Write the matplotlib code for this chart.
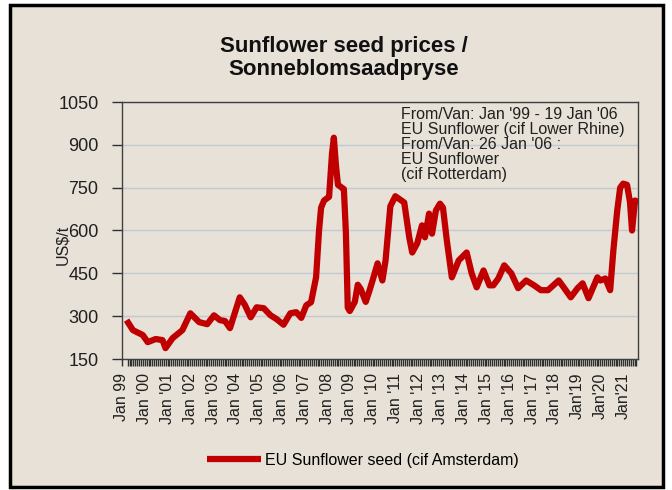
import numpy as np
import matplotlib
matplotlib.use("Agg")
import matplotlib.pyplot as plt
from matplotlib import font_manager
from matplotlib.patches import Rectangle

# decimal year (Jan = .0) and price in US$/t
years = [1999.2, 1999.48, 1999.91, 2000.13, 2000.48, 2000.78, 2000.91, 2001.22,
         2001.65, 2002.00, 2002.39, 2002.74, 2003.04, 2003.30, 2003.52, 2003.74,
         2004.17, 2004.39, 2004.65, 2004.91, 2005.22, 2005.52, 2005.78, 2006.09,
         2006.39, 2006.65, 2006.87, 2007.09, 2007.30, 2007.52, 2007.65, 2007.74,
         2007.87, 2008.09, 2008.22, 2008.30, 2008.39, 2008.48, 2008.65, 2008.74,
         2008.83, 2008.91, 2009.00, 2009.22, 2009.35, 2009.48, 2009.70, 2009.87,
         2010.00, 2010.22, 2010.43, 2010.57, 2010.78, 2011.00, 2011.39, 2011.61,
         2011.74, 2011.96, 2012.17, 2012.30, 2012.48, 2012.61, 2012.78, 2012.96,
         2013.09, 2013.26, 2013.48, 2013.78, 2014.13, 2014.35, 2014.57, 2014.87,
         2015.13, 2015.30, 2015.52, 2015.78, 2016.09, 2016.39, 2016.74, 2017.09,
         2017.39, 2017.70, 2018.17, 2018.39, 2018.70, 2019.00, 2019.22, 2019.48,
         2019.87, 2020.00, 2020.22, 2020.43, 2020.57, 2020.74, 2020.87, 2021.00,
         2021.17, 2021.30, 2021.39, 2021.52, 2021.65]
prices = [286, 251, 234, 209, 220, 216, 188, 223,
          251, 310, 279, 272, 303, 286, 283, 258,
          366, 340, 296, 331, 328, 303, 290, 270,
          310, 314, 294, 338, 349, 436, 600, 680,
          705, 718, 870, 925, 830, 760, 750, 745,
          590, 330, 318, 350, 410, 395, 350, 391,
          425, 485, 425, 495, 685, 720, 698, 576,
          523, 555, 618, 576, 659, 589, 670, 694,
          680, 565, 436, 495, 523, 450, 401, 460,
          408, 408, 432, 478, 450, 398, 425, 408,
          391, 391, 425, 401, 366, 398, 415, 363,
          436, 425, 432, 391, 530, 670, 750, 764,
          760, 700, 600, 705, 700]

tick_years = list(range(1999, 2022))
tick_labels = ["Jan 99"] + ["Jan '%02d" % (y % 100) for y in range(2000, 2019)] + \
              ["Jan'19", "Jan'20", "Jan'21"]
y_ticks = [150, 300, 450, 600, 750, 900, 1050]

title = "Sunflower seed prices /\nSonneblomsaadpryse"
note = ("From/Van: Jan '99 - 19 Jan '06\nEU Sunflower (cif Lower Rhine)\n"
        "From/Van: 26 Jan '06 :\nEU Sunflower\n(cif Rotterdam)")
series_name = "EU Sunflower seed (cif Amsterdam)"

red = "#C00000"
bg = "#E7E1D7"

plt.rcParams["font.family"] = ["Liberation Sans", "DejaVu Sans"]

W, H = 672, 490
fig = plt.figure(figsize=(W / 100, H / 100), dpi=100, facecolor="white")
fig.patches.append(Rectangle((10 / W, 1 - 487 / H), 653 / W, 482 / H,
                             transform=fig.transFigure, facecolor=bg,
                             edgecolor="black", lw=2.5, zorder=-10))

ax = fig.add_axes([122 / W, 1 - 359 / H, 516 / W, 257 / H])
ax.set_zorder(2)
ax.set_facecolor("none")
ax.plot(years, prices, color=red, lw=4.5, solid_joinstyle="round",
        solid_capstyle="butt", label=series_name, zorder=3)

ax.set_xlim(1999.217, 2021.652)
ax.set_ylim(150, 1050)
ax.set_yticks(y_ticks)
ax.set_xticks(tick_years)
ax.set_xticklabels(tick_labels, rotation=90, fontsize=11.5, color="#202020")
ax.set_xticks(np.arange(1999.25, 2021.65, 1 / 12), minor=True)
ax.tick_params(axis="x", which="both", direction="out", length=5, width=1,
               color="#303030", pad=5)
ax.tick_params(axis="y", direction="out", length=7, width=1, color="#303030",
               pad=10, labelsize=13, labelcolor="#202020")
ax.yaxis.grid(True, color="#C3C8D2", lw=1)
ax.set_axisbelow(True)
for s in ax.spines.values():
    s.set_color("#404040")
    s.set_linewidth(1)

fig.text(63 / W, 1 - 245 / H, "US$/t", rotation=90, ha="center", va="center",
         fontsize=11.5, color="#202020")
fig.text(344 / W, 1 - 58 / H, title, ha="center", va="center", fontsize=16,
         fontweight="bold", linespacing=1.15, color="#111111")
fig.text(401 / W, 1 - 107 / H, note, ha="left", va="top", fontsize=11.5,
         linespacing=1.0, color="#202020", zorder=5)

fig.legend(loc="center left", bbox_to_anchor=(207 / W, 1 - 460 / H),
           frameon=False, fontsize=11.5, handlelength=3.4, handletextpad=0.25,
           borderpad=0, borderaxespad=0)

fig.savefig("out.png", dpi=100, facecolor="white")
